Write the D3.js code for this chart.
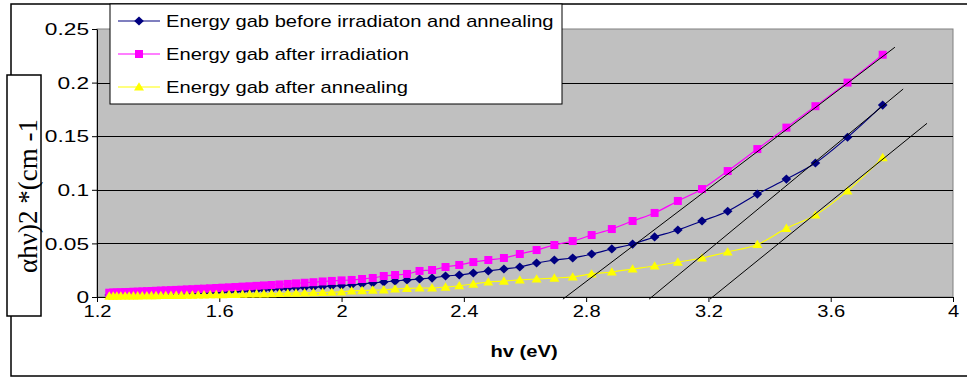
<!DOCTYPE html>
<html>
<head>
<meta charset="utf-8">
<script src="https://cdn.jsdelivr.net/npm/d3@7"></script>
<style>
  html, body { margin: 0; padding: 0; background: #fff; }
  svg { display: block; }
</style>
</head>
<body>
<div id="chart"></div>
<script>
// photon energy (eV) of each measured point
const hv = [
  1.240, 1.253, 1.265, 1.278, 1.292, 1.305, 1.319, 1.333, 1.348, 1.363,
  1.378, 1.393, 1.409, 1.425, 1.442, 1.459, 1.476, 1.494, 1.512, 1.531,
  1.550, 1.570, 1.590, 1.610, 1.632, 1.653, 1.676, 1.699, 1.722, 1.746,
  1.771, 1.797, 1.824, 1.851, 1.879, 1.908, 1.938, 1.968, 2.000, 2.033,
  2.067, 2.102, 2.138, 2.175, 2.214, 2.255, 2.296, 2.340, 2.385, 2.431,
  2.480, 2.531, 2.583, 2.638, 2.696, 2.756, 2.818, 2.884, 2.952, 3.024,
  3.100, 3.179, 3.263, 3.360, 3.455, 3.550, 3.655, 3.770
];

const beforeVals = [
  0.0018, 0.0019, 0.0020, 0.0021, 0.0022, 0.0023, 0.0024, 0.0025, 0.0026, 0.0027,
  0.0028, 0.0029, 0.0031, 0.0032, 0.0034, 0.0035, 0.0037, 0.0039, 0.0041, 0.0043,
  0.0045, 0.0047, 0.0050, 0.0052, 0.0054, 0.0057, 0.0060, 0.0063, 0.0066, 0.0069,
  0.0072, 0.0076, 0.0080, 0.0084, 0.0088, 0.0092, 0.0097, 0.0102, 0.0107, 0.0112,
  0.0122, 0.0131, 0.0140, 0.0149, 0.0159, 0.0168, 0.0177, 0.0196, 0.0205, 0.0224,
  0.0243, 0.0261, 0.0280, 0.0317, 0.0345, 0.0364, 0.0401, 0.0448, 0.0494, 0.0560,
  0.0625, 0.0709, 0.0800, 0.096, 0.110, 0.125, 0.149, 0.179
];

const irradVals = [
  0.0040, 0.0042, 0.0043, 0.0044, 0.0046, 0.0047, 0.0049, 0.0050, 0.0052, 0.0054,
  0.0056, 0.0058, 0.0060, 0.0062, 0.0064, 0.0066, 0.0068, 0.0071, 0.0073, 0.0076,
  0.0078, 0.0081, 0.0084, 0.0087, 0.0090, 0.0093, 0.0097, 0.0100, 0.0104, 0.0108,
  0.0112, 0.0117, 0.0122, 0.0127, 0.0133, 0.0138, 0.0145, 0.0150, 0.0155, 0.0159,
  0.0168, 0.0177, 0.0196, 0.0205, 0.0215, 0.0243, 0.0252, 0.0280, 0.0299, 0.0326,
  0.0345, 0.0364, 0.0401, 0.0438, 0.0485, 0.0522, 0.0578, 0.0634, 0.0709, 0.0784,
  0.0896, 0.1007, 0.1175, 0.138, 0.158, 0.178, 0.200, 0.226
];

const annealVals = [
  0.0009, 0.0009, 0.0009, 0.0010, 0.0010, 0.0010, 0.0011, 0.0011, 0.0012, 0.0012,
  0.0013, 0.0013, 0.0014, 0.0014, 0.0015, 0.0016, 0.0016, 0.0017, 0.0018, 0.0019,
  0.0020, 0.0021, 0.0022, 0.0023, 0.0024, 0.0025, 0.0026, 0.0028, 0.0029, 0.0030,
  0.0032, 0.0033, 0.0035, 0.0037, 0.0039, 0.0041, 0.0043, 0.0045, 0.0047, 0.0058,
  0.0060, 0.0065, 0.0066, 0.0075, 0.0080, 0.0084, 0.0084, 0.0093, 0.0105, 0.0121,
  0.0140, 0.0149, 0.0159, 0.0168, 0.0177, 0.0187, 0.0215, 0.0233, 0.0261, 0.0289,
  0.0326, 0.0364, 0.0420, 0.049, 0.064, 0.0765, 0.099, 0.130
];

const seriesNames = [
  "Energy gab before irradiaton and annealing",
  "Energy gab after irradiation",
  "Energy gab after annealing"
];
const seriesColors = ["#000080", "#ff00ff", "#ffff00"];
const seriesMarkers = ["diamond", "square", "triangle"];

// straight-line fits drawn over the linear part of each curve: [hv, value]
const fitStart = [[2.724, -0.002], [3.006, -0.002], [3.205, -0.002]];
const fitEnd = [[3.810, 0.233], [3.837, 0.194], [3.915, 0.162]];

const xTicks = [1.2, 1.6, 2, 2.4, 2.8, 3.2, 3.6, 4];
const yTicks = [0, 0.05, 0.1, 0.15, 0.2, 0.25];

const W = 967, H = 378;
const SX = 1.26;   // the original's text is stretched sideways
const SXY = 1.42;  // y tick labels look even wider
const SANS = "'Liberation Sans', Arial, sans-serif";

const svg = d3.select("#chart").append("svg")
  .attr("width", W)
  .attr("height", H);

const x = d3.scaleLinear().domain([1.2, 4]).range([97, 953]);
const y = d3.scaleLinear().domain([0, 0.25]).range([297, 29]);

// outer chart frame
svg.append("rect")
  .attr("x", 11).attr("y", 4)
  .attr("width", 980).attr("height", 372)
  .attr("fill", "#fff")
  .attr("stroke", "#000")
  .attr("stroke-width", 1.5);

// plot area
svg.append("rect")
  .attr("x", x(1.2)).attr("y", y(0.25))
  .attr("width", x(4) - x(1.2)).attr("height", y(0) - y(0.25))
  .attr("fill", "#c0c0c0")
  .attr("stroke", "#808080")
  .attr("stroke-width", 1);

// gridlines
svg.append("g")
  .selectAll("line")
  .data(yTicks.filter(d => d > 0 && d < 0.25))
  .join("line")
  .attr("x1", x(1.2)).attr("x2", x(4))
  .attr("y1", d => Math.round(y(d)) + 0.5)
  .attr("y2", d => Math.round(y(d)) + 0.5)
  .attr("stroke", "#000")
  .attr("stroke-width", 1);

// axes
const fmt = d => String(d);
const xAxis = svg.append("g")
  .attr("transform", `translate(0,${y(0)})`)
  .call(d3.axisBottom(x).tickValues(xTicks).tickFormat(fmt).tickSize(5).tickSizeOuter(0));
const yAxis = svg.append("g")
  .attr("transform", `translate(${x(1.2)},0)`)
  .call(d3.axisLeft(y).tickValues(yTicks).tickFormat(fmt).tickSize(5).tickSizeOuter(0));

[xAxis, yAxis].forEach(a => {
  a.select(".domain").attr("stroke", "#000");
  a.selectAll(".tick line").attr("stroke", "#000");
  a.selectAll("text")
    .attr("font-family", SANS)
    .attr("font-size", "16px")
    .attr("fill", "#000");
});
xAxis.selectAll("text").attr("y", 9).attr("dy", "0.71em")
  .attr("transform", `scale(${SX},1)`);
yAxis.selectAll("text").attr("x", -8 / SXY).attr("dy", "0.35em")
  .attr("transform", `scale(${SXY},1)`);

// markers, sized like the original's
const markerPath = {
  diamond: "M0,-4.6L4.8,0L0,4.6L-4.8,0Z",
  square: "M-4,-4H4V4H-4Z",
  triangle: "M0,-4.8L5,3.6H-5Z"
};

const allSeries = [beforeVals, irradVals, annealVals].map((vals, i) => ({
  name: seriesNames[i],
  color: seriesColors[i],
  marker: seriesMarkers[i],
  points: vals.map((v, j) => ({ hv: hv[j], v }))
}));

const line = d3.line()
  .x(d => x(d.hv))
  .y(d => y(d.v))
  .curve(d3.curveCatmullRom.alpha(0.5));

const seriesG = svg.append("g")
  .selectAll("g")
  .data(allSeries)
  .join("g");

seriesG.append("path")
  .attr("d", d => line(d.points))
  .attr("fill", "none")
  .attr("stroke", d => d.color)
  .attr("stroke-width", 1.2);

seriesG.each(function (s) {
  d3.select(this).append("g")
    .selectAll("path")
    .data(s.points)
    .join("path")
    .attr("d", markerPath[s.marker])
    .attr("transform", d => `translate(${x(d.hv)},${y(d.v)})`)
    .attr("fill", s.color);
});

// fit lines
svg.append("g")
  .selectAll("line")
  .data(fitStart.map((s, i) => [s, fitEnd[i]]))
  .join("line")
  .attr("x1", d => x(d[0][0])).attr("y1", d => y(d[0][1]))
  .attr("x2", d => x(d[1][0])).attr("y2", d => y(d[1][1]))
  .attr("stroke", "#000")
  .attr("stroke-width", 1);

// x-axis title
svg.append("text")
  .attr("transform", `translate(524,357) scale(${SX},1)`)
  .attr("text-anchor", "middle")
  .attr("font-family", SANS)
  .attr("font-weight", "bold")
  .attr("font-size", "16px")
  .text("hv (eV)");

// y-axis title in its own box
svg.append("rect")
  .attr("x", 7).attr("y", 75)
  .attr("width", 34).attr("height", 241)
  .attr("fill", "#fff")
  .attr("stroke", "#000")
  .attr("stroke-width", 1.5);
svg.append("text")
  .attr("transform", "translate(37,196) rotate(-90)")
  .attr("text-anchor", "middle")
  .attr("font-family", "'Liberation Serif', 'Times New Roman', serif")
  .attr("font-size", "27px")
  .text("αhν)2 *(cm -1");

// legend
const legend = svg.append("g");
legend.append("rect")
  .attr("x", 110).attr("y", 4)
  .attr("width", 452).attr("height", 100)
  .attr("fill", "#fff")
  .attr("stroke", "#000")
  .attr("stroke-width", 1);

const legendRows = [21, 54, 87];
const item = legend.selectAll("g.item")
  .data(allSeries)
  .join("g")
  .attr("class", "item")
  .attr("transform", (d, i) => `translate(0,${legendRows[i]})`);
item.append("line")
  .attr("x1", 118).attr("x2", 160)
  .attr("stroke", d => d.color)
  .attr("stroke-width", 1.2);
item.append("path")
  .attr("d", d => markerPath[d.marker])
  .attr("transform", "translate(139,0)")
  .attr("fill", d => d.color);
item.append("text")
  .attr("transform", `translate(166,6) scale(${SX},1)`)
  .attr("font-family", SANS)
  .attr("font-size", "16px")
  .text(d => d.name);
</script>
</body>
</html>
